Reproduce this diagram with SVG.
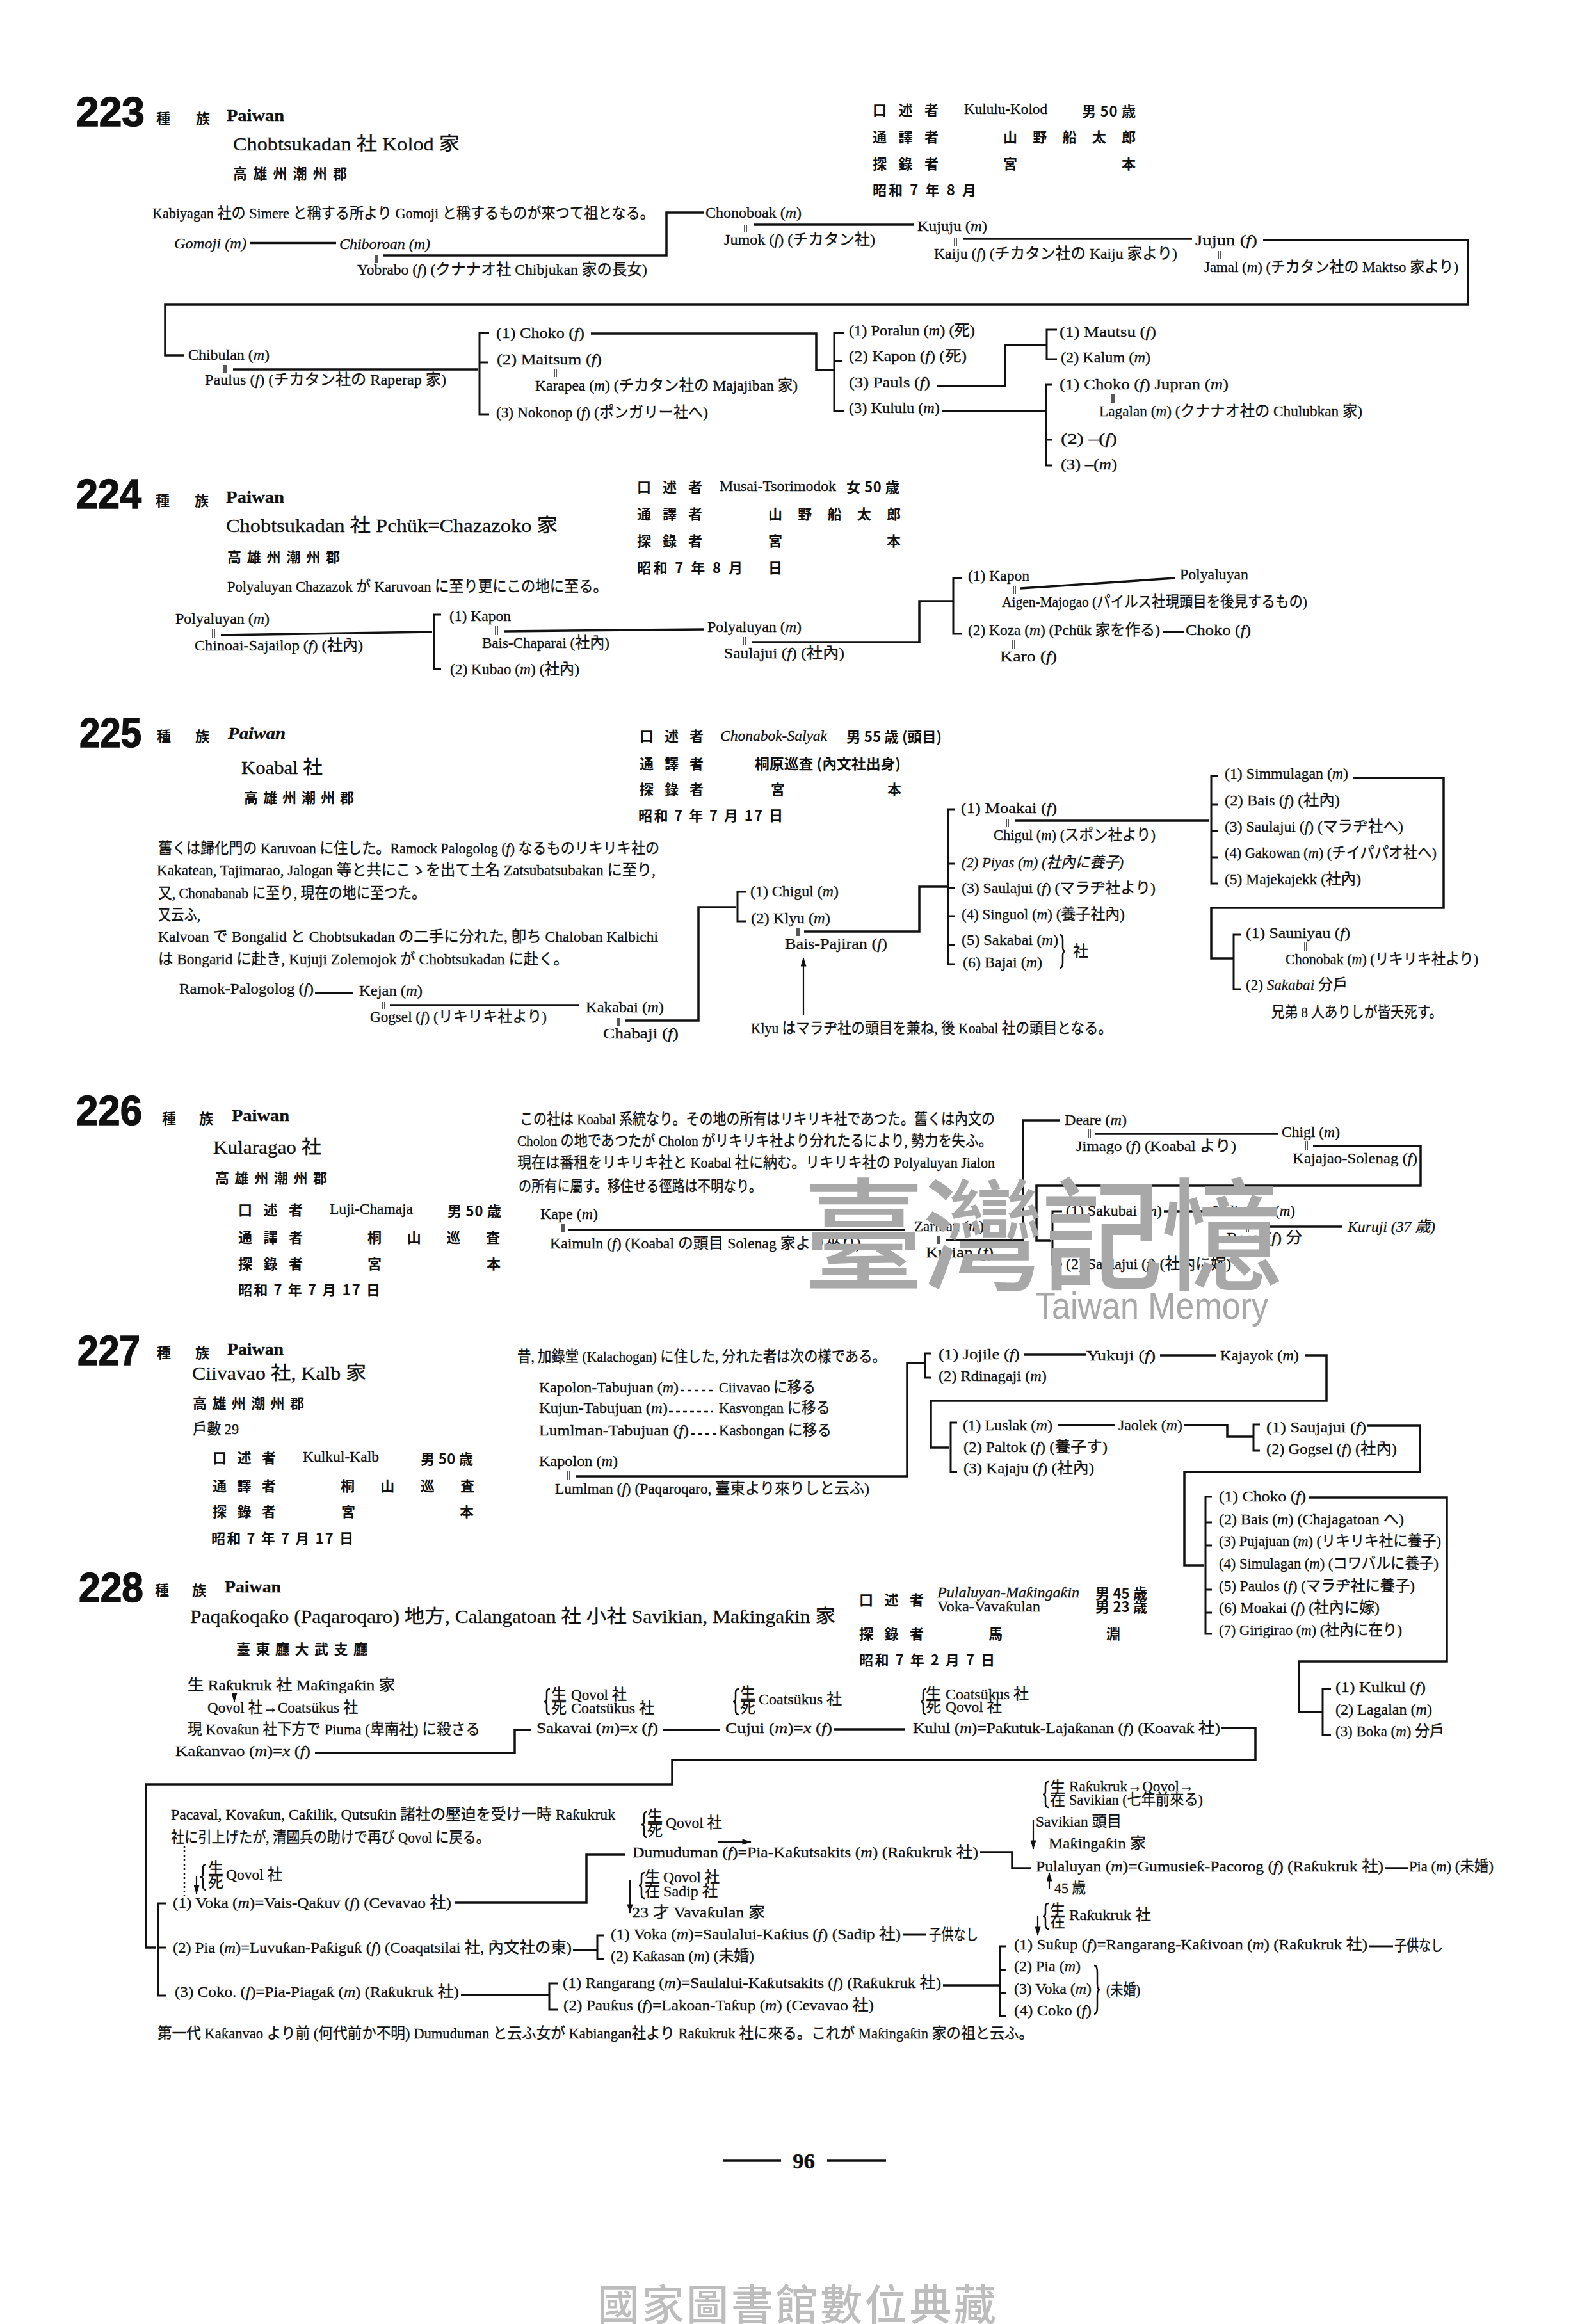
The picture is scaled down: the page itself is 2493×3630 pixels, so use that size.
<svg xmlns="http://www.w3.org/2000/svg" width="2493" height="3630" viewBox="0 0 2493 3630">
<style>
text{font-family:"Liberation Serif","Noto Sans CJK JP",serif;font-size:24px;fill:#111;stroke:#111;stroke-width:.35}
.i{font-style:italic}
.b{font-weight:bold;font-size:26px}
.h{font-size:29px}
.k{font-family:"Noto Sans CJK JP",sans-serif;font-size:22px;font-weight:700;stroke:none}
.n{font-family:"Liberation Sans",sans-serif;font-size:64px;font-weight:bold;stroke-width:1.5}
.pg{font-size:34px;font-weight:bold}
.c path,.l{fill:none;stroke:#111;stroke-width:3.5}
.c .t{stroke-width:3}
.c .q{stroke-width:1.4}
.c .d{stroke-width:2.5;stroke-dasharray:6 5}
.c .o{stroke-width:2.5;stroke-dasharray:3 4}
.c .a{stroke-width:2.2}
#br{fill:none;stroke:#111;stroke-width:2.5;vector-effect:non-scaling-stroke}
.wm{font-family:"Noto Sans CJK TC",sans-serif;font-size:190px;font-weight:500;fill:#a8a8a8;stroke:none}
.we{font-family:"Liberation Sans",sans-serif;font-size:60px;fill:#a8a8a8;stroke:none}
.ft{font-family:"Noto Sans CJK TC",sans-serif;font-size:66px;font-weight:500;fill:#bdbdbd;stroke:none}
</style>
<defs>
<marker id="ah" markerUnits="userSpaceOnUse" viewBox="0 0 16 10" refX="15" refY="5" markerWidth="16" markerHeight="9" orient="auto"><path d="M0 0L16 5L0 10Z" fill="#111" stroke="none"/></marker>
<path id="br" d="M5 0Q0 0 0 6V15Q0 20 -4 20Q0 20 0 25V34Q0 40 5 40"/>
</defs>
<rect width="2493" height="3630" fill="#fff"/>

<g id="connectors" class="c">
<path d="M391 379.5H525M599 399H1041V332H1099M1178 351H1427M1505 373H1862M1973 375H2293V476H258V555H287M364 577H747M923 521H1275V578H1302M1464 603H1570V539H1635M1472 642H1632"/>
<path class="t" d="M764 520H749V647H764M749 566H762M1318 520H1303V642H1318M1303 564H1316M1651 515H1635V561H1651M1644 601H1634V727H1644M1634 687H1644"/>
<path d="M345 992L675 987M787 986L1099 983M1175 1003H1436V939H1489M1594 919L1835 903M1816 987H1849"/>
<path class="t" d="M689 960H678V1045H689M1502 903H1489V990H1502"/>
<path d="M492 1551H551M609 1570H904M976 1594H1091V1417H1150M1256 1455H1436V1385H1481M1585 1282H1889M2113 1215H2255V1418H1892V1497H1927"/>
<path class="t" d="M1165 1393H1152V1439H1165M1491 1264H1481V1506H1491M1481 1349H1491M1481 1387H1491M1481 1431H1491M1481 1476H1491M1903 1212H1892V1380H1903M1892 1257H1903M1892 1298H1903M1892 1339H1903M1939 1460H1927V1545H1939"/>
<path class="a" d="M1255 1585V1496" marker-end="url(#ah)"/>
<path d="M888 1921H1413M1477 1937H1598V1750H1655M1711 1771H1996M2051 1790H2219V1852H1619V1938H1642M1818 1892H1893M1968 1916H2097"/>
<path class="t" d="M1659 1892H1644V1975H1659"/>
<path class="d" d="M1063 2172H1118M1045 2205H1114M1080 2240H1122"/>
<path d="M900 2306H1417V2129H1445M1599 2116H1696M1812 2117H1900M2038 2117H2072V2188H1454V2261H1483M1652 2226H1742M1850 2226H1917V2244H1958M2135 2227H2218V2299H1850V2445H1881M2044 2339H2260V2595H2029V2674H2065"/>
<path class="t" d="M1455 2114H1445V2152H1455M1495 2222H1485V2299H1495M1968 2225H1958V2266H1968M1893 2338H1883V2552H1893M1883 2378H1893M1883 2414H1893M1883 2483H1893M1883 2519H1893M2079 2638H2066V2710H2079"/>
<path d="M492 2738H804V2702H829M1035 2702H1125M1303 2701H1414M1908 2699H1961V2749H1050V2787H228V3042H244M711 2972H916V2897H977M895 3046H933M720 3116H858M1531 2893H1581V2918H1610M1473 3101H1561M2164 2918H2199"/>
<path class="t" d="M260 2973H247V3117H260M247 3042H260M944 3023H933V3060H944M872 3098H858V3139H872M1572 3040H1562V3149H1572M1562 3077H1572M1562 3113H1572M1411 3022H1447M2138 3040H2176"/>
<path class="a" d="M366 2647V2658" marker-end="url(#ah)"/>
<path class="a" d="M307 2930V2958" marker-end="url(#ah)"/>
<path class="o" d="M288 2883V2962"/>
<path class="a" d="M1121 2877H1173" marker-end="url(#ah)"/>
<path class="a" d="M984 2937V2988" marker-end="url(#ah)"/>
<path class="a" d="M1614 2843V2888" marker-end="url(#ah)"/>
<path class="a" d="M1639 2950V2925" marker-end="url(#ah)"/>
<path class="a" d="M1621 2992V3023" marker-end="url(#ah)"/>
<path class="q" d="M586 398v13M589 398v13M1163 352v10M1166 352v10M1491 372v13M1494 372v13M1903 392v12M1906 392v12M350 570v13M353 570v13M866 576v13M869 576v13M1737 616v13M1740 616v13M332 983v14M335 983v14M774 978v14M777 978v14M1161 995v13M1164 995v13M1583 915v13M1586 915v13M1582 1000v13M1585 1000v13M598 1565v11M601 1565v11M964 1590v13M967 1590v13M1245 1449v13M1248 1449v13M1572 1280v12M1575 1280v12M2038 1472v13M2041 1472v13M878 1912v13M881 1912v13M1465 1930v13M1468 1930v13M1700 1764v14M1703 1764v14M2039 1782v14M2042 1782v14M1947 1911v14M1950 1911v14M887 2297v14M890 2297v14"/>
<use href="#br" x="854" y="2638"/><use href="#br" x="1149" y="2638"/><use href="#br" x="1442" y="2638"/><use href="#br" x="317" y="2912"/><use href="#br" x="1006" y="2830"/><use href="#br" x="1002" y="2925"/><use href="#br" x="1633" y="2783"/><use href="#br" x="1633" y="2973"/>
<use href="#br" transform="translate(1660,1460) scale(-1,1.3)"/>
<use href="#br" transform="translate(1714,3070) scale(-1,1.9)"/>
</g>

<g id="s223">
<text class="n" x="119" y="197" textLength="107" lengthAdjust="spacingAndGlyphs">223</text>
<text class="k" x="244" y="193" textLength="84">種族</text><text class="b" x="354" y="189" textLength="90" lengthAdjust="spacingAndGlyphs">Paiwan</text>
<text class="h" x="364" y="235" textLength="354" lengthAdjust="spacingAndGlyphs">Chobtsukadan 社 Kolod 家</text>
<text class="k" x="364" y="279" textLength="178">高雄州潮州郡</text>
<text x="238" y="341" textLength="784" lengthAdjust="spacingAndGlyphs">Kabiyagan 社の Simere と稱する所より Gomoji と稱するものが來つて祖となる。</text>
<g id="h223"><text class="k" x="1363" y="180" textLength="103">口述者</text><text x="1506" y="178" textLength="130" lengthAdjust="spacingAndGlyphs">Kululu-Kolod</text><text class="k" x="1690" y="182" textLength="84">男 50 歳</text>
<text class="k" x="1363" y="222" textLength="103">通譯者</text><text class="k" x="1567" y="222" textLength="207">山野船太郎</text>
<text class="k" x="1363" y="264" textLength="103">探錄者</text><text class="k" x="1567" y="264">宮</text><text class="k" x="1752" y="264">本</text>
<text class="k" x="1363" y="305" textLength="162">昭和 7 年 8 月</text></g>
<g id="n223-01"><text class="i" x="272" y="388" textLength="113" lengthAdjust="spacingAndGlyphs">Gomoji (m)</text></g>
<g id="n223-02"><text class="i" x="530" y="389" textLength="142" lengthAdjust="spacingAndGlyphs">Chiboroan (m)</text></g>
<g id="n223-03"><text x="558" y="429" textLength="453" lengthAdjust="spacingAndGlyphs">Yobrabo (<tspan class="i">f</tspan>) (クナナオ社 Chibjukan 家の長女)</text></g>
<g id="n223-04"><text x="1102" y="340" textLength="150" lengthAdjust="spacingAndGlyphs">Chonoboak (<tspan class="i">m</tspan>)</text></g>
<g id="n223-05"><text x="1131" y="382" textLength="236" lengthAdjust="spacingAndGlyphs">Jumok (<tspan class="i">f</tspan>) (チカタン社)</text></g>
<g id="n223-06"><text x="1433" y="361" textLength="109" lengthAdjust="spacingAndGlyphs">Kujuju (<tspan class="i">m</tspan>)</text></g>
<g id="n223-07"><text x="1459" y="404" textLength="380" lengthAdjust="spacingAndGlyphs">Kaiju (<tspan class="i">f</tspan>) (チカタン社の Kaiju 家より)</text></g>
<g id="n223-08"><text x="1867" y="383" textLength="97" lengthAdjust="spacingAndGlyphs">Jujun (<tspan class="i">f</tspan>)</text></g>
<g id="n223-09"><text x="1881" y="425" textLength="397" lengthAdjust="spacingAndGlyphs">Jamal (<tspan class="i">m</tspan>) (チカタン社の Maktso 家より)</text></g>
<g id="n223-10"><text x="294" y="562" textLength="127" lengthAdjust="spacingAndGlyphs">Chibulan (<tspan class="i">m</tspan>)</text></g>
<g id="n223-11"><text x="320" y="601" textLength="377" lengthAdjust="spacingAndGlyphs">Paulus (<tspan class="i">f</tspan>) (チカタン社の Raperap 家)</text></g>
<g id="n223-12"><text x="775" y="528" textLength="138" lengthAdjust="spacingAndGlyphs">(1) Choko (<tspan class="i">f</tspan>)</text></g>
<g id="n223-13"><text x="776" y="569" textLength="164" lengthAdjust="spacingAndGlyphs">(2) Maitsum (<tspan class="i">f</tspan>)</text></g>
<g id="n223-14"><text x="836" y="610" textLength="410" lengthAdjust="spacingAndGlyphs">Karapea (<tspan class="i">m</tspan>) (チカタン社の Majajiban 家)</text></g>
<g id="n223-15"><text x="775" y="652" textLength="331" lengthAdjust="spacingAndGlyphs">(3) Nokonop (<tspan class="i">f</tspan>) (ポンガリー社へ)</text></g>
<g id="n223-16"><text x="1326" y="524" textLength="197" lengthAdjust="spacingAndGlyphs">(1) Poralun (<tspan class="i">m</tspan>) (死)</text></g>
<g id="n223-17"><text x="1326" y="564" textLength="184" lengthAdjust="spacingAndGlyphs">(2) Kapon (<tspan class="i">f</tspan>) (死)</text></g>
<g id="n223-18"><text x="1326" y="605" textLength="127" lengthAdjust="spacingAndGlyphs">(3) Pauls (<tspan class="i">f</tspan>)</text></g>
<g id="n223-19"><text x="1326" y="645" textLength="142" lengthAdjust="spacingAndGlyphs">(3) Kululu (<tspan class="i">m</tspan>)</text></g>
<g id="n223-20"><text x="1655" y="526" textLength="151" lengthAdjust="spacingAndGlyphs">(1) Mautsu (<tspan class="i">f</tspan>)</text></g>
<g id="n223-21"><text x="1657" y="566" textLength="140" lengthAdjust="spacingAndGlyphs">(2) Kalum (<tspan class="i">m</tspan>)</text></g>
<g id="n223-22"><text x="1655" y="608" textLength="264" lengthAdjust="spacingAndGlyphs">(1) Choko (<tspan class="i">f</tspan>)  Jupran (<tspan class="i">m</tspan>)</text></g>
<g id="n223-23"><text x="1717" y="650" textLength="411" lengthAdjust="spacingAndGlyphs">Lagalan (<tspan class="i">m</tspan>) (クナナオ社の Chulubkan 家)</text></g>
<g id="n223-24"><text x="1657" y="693" textLength="88" lengthAdjust="spacingAndGlyphs">(2) –(<tspan class="i">f</tspan>)</text></g>
<g id="n223-25"><text x="1657" y="733" textLength="88" lengthAdjust="spacingAndGlyphs">(3) –(<tspan class="i">m</tspan>)</text></g>
</g>

<g id="s224">
<text class="n" x="119" y="794" textLength="102" lengthAdjust="spacingAndGlyphs">224</text>
<text class="k" x="243" y="790" textLength="83">種族</text><text class="b" x="353" y="785" textLength="91" lengthAdjust="spacingAndGlyphs">Paiwan</text>
<text class="h" x="353" y="831" textLength="518" lengthAdjust="spacingAndGlyphs">Chobtsukadan 社 Pchük=Chazazoko 家</text>
<text class="k" x="355" y="878" textLength="176">高雄州潮州郡</text>
<text x="355" y="924" textLength="594" lengthAdjust="spacingAndGlyphs">Polyaluyan Chazazok が Karuvoan に至り更にこの地に至る。</text>
<g id="h224"><text class="k" x="995" y="769" textLength="102">口述者</text><text x="1124" y="767" textLength="182" lengthAdjust="spacingAndGlyphs">Musai-Tsorimodok</text><text class="k" x="1322" y="769" textLength="83">女 50 歳</text>
<text class="k" x="995" y="811" textLength="102">通譯者</text><text class="k" x="1200" y="811" textLength="207">山野船太郎</text>
<text class="k" x="995" y="853" textLength="102">探錄者</text><text class="k" x="1200" y="853">宮</text><text class="k" x="1385" y="853">本</text>
<text class="k" x="995" y="895" textLength="165">昭和 7 年 8 月</text><text class="k" x="1200" y="895">日</text></g>
<g id="n224-01"><text x="274" y="974" textLength="147" lengthAdjust="spacingAndGlyphs">Polyaluyan (<tspan class="i">m</tspan>)</text></g>
<g id="n224-02"><text x="304" y="1016" textLength="263" lengthAdjust="spacingAndGlyphs">Chinoai-Sajailop (<tspan class="i">f</tspan>) (社內)</text></g>
<g id="n224-03"><text x="702" y="970" textLength="96" lengthAdjust="spacingAndGlyphs">(1) Kapon</text></g>
<g id="n224-04"><text x="753" y="1012" textLength="199" lengthAdjust="spacingAndGlyphs">Bais-Chaparai (社內)</text></g>
<g id="n224-05"><text x="703" y="1053" textLength="202" lengthAdjust="spacingAndGlyphs">(2) Kubao (<tspan class="i">m</tspan>) (社內)</text></g>
<g id="n224-06"><text x="1105" y="987" textLength="147" lengthAdjust="spacingAndGlyphs">Polyaluyan (<tspan class="i">m</tspan>)</text></g>
<g id="n224-07"><text x="1131" y="1028" textLength="188" lengthAdjust="spacingAndGlyphs">Saulajui (<tspan class="i">f</tspan>) (社內)</text></g>
<g id="n224-08"><text x="1512" y="907" textLength="96" lengthAdjust="spacingAndGlyphs">(1) Kapon</text></g>
<g id="n224-09"><text x="1843" y="905" textLength="107" lengthAdjust="spacingAndGlyphs">Polyaluyan</text></g>
<g id="n224-10"><text x="1565" y="948" textLength="477" lengthAdjust="spacingAndGlyphs">Aigen-Majogao (パイルス社現頭目を後見するもの)</text></g>
<g id="n224-11"><text x="1512" y="992" textLength="300" lengthAdjust="spacingAndGlyphs">(2) Koza (<tspan class="i">m</tspan>) (Pchük 家を作る)</text></g>
<g id="n224-12"><text x="1852" y="992" textLength="102" lengthAdjust="spacingAndGlyphs">Choko (<tspan class="i">f</tspan>)</text></g>
<g id="n224-13"><text x="1562" y="1033" textLength="89" lengthAdjust="spacingAndGlyphs">Karo (<tspan class="i">f</tspan>)</text></g>
</g>

<g id="s225">
<text class="n" x="124" y="1167" textLength="97" lengthAdjust="spacingAndGlyphs">225</text>
<text class="k" x="245" y="1158" textLength="82">種族</text><text class="b i" x="356" y="1154" textLength="90" lengthAdjust="spacingAndGlyphs">Paiwan</text>
<text class="h" x="377" y="1209" textLength="127" lengthAdjust="spacingAndGlyphs">Koabal 社</text>
<text class="k" x="381" y="1254" textLength="172">高雄州潮州郡</text>
<text x="247" y="1333" textLength="783" lengthAdjust="spacingAndGlyphs">舊くは歸化門の Karuvoan に住した。Ramock Palogolog (<tspan class="i">f</tspan>) なるものリキリキ社の</text>
<text x="245" y="1367" textLength="779" lengthAdjust="spacingAndGlyphs">Kakatean, Tajimarao, Jalogan 等と共にこゝを出て土名 Zatsubatsubakan に至り,</text>
<text x="247" y="1403" textLength="418" lengthAdjust="spacingAndGlyphs">又, Chonabanab に至り, 現在の地に至つた。</text>
<text x="247" y="1437" textLength="66" lengthAdjust="spacingAndGlyphs">又云ふ,</text>
<text x="247" y="1471" textLength="781" lengthAdjust="spacingAndGlyphs">Kalvoan で Bongalid と Chobtsukadan の二手に分れた, 卽ち Chaloban Kalbichi</text>
<text x="247" y="1506" textLength="641" lengthAdjust="spacingAndGlyphs">は Bongarid に赴き, Kujuji Zolemojok が Chobtsukadan に赴く。</text>
<g id="h225"><text class="k" x="999" y="1158" textLength="100">口述者</text><text class="i" x="1125" y="1157" textLength="167" lengthAdjust="spacingAndGlyphs">Chonabok-Salyak</text><text class="k" x="1322" y="1159" textLength="149" lengthAdjust="spacingAndGlyphs">男 55 歳 (頭目)</text>
<text class="k" x="999" y="1201" textLength="100">通譯者</text><text class="k" x="1179" y="1201" textLength="228" lengthAdjust="spacingAndGlyphs">桐原巡査 (內文社出身)</text>
<text class="k" x="999" y="1241" textLength="100">探錄者</text><text class="k" x="1204" y="1241">宮</text><text class="k" x="1386" y="1241">本</text>
<text class="k" x="997" y="1282" textLength="226">昭和 7 年 7 月 17 日</text></g>
<g id="n225-01"><text x="280" y="1552" textLength="210" lengthAdjust="spacingAndGlyphs">Ramok-Palogolog (<tspan class="i">f</tspan>)</text></g>
<g id="n225-02"><text x="561" y="1555" textLength="99" lengthAdjust="spacingAndGlyphs">Kejan (<tspan class="i">m</tspan>)</text></g>
<g id="n225-03"><text x="578" y="1596" textLength="276" lengthAdjust="spacingAndGlyphs">Gogsel (<tspan class="i">f</tspan>) (リキリキ社より)</text></g>
<g id="n225-04"><text x="915" y="1581" textLength="122" lengthAdjust="spacingAndGlyphs">Kakabai (<tspan class="i">m</tspan>)</text></g>
<g id="n225-05"><text x="942" y="1622" textLength="118" lengthAdjust="spacingAndGlyphs">Chabaji (<tspan class="i">f</tspan>)</text></g>
<g id="n225-06"><text x="1172" y="1400" textLength="138" lengthAdjust="spacingAndGlyphs">(1) Chigul (<tspan class="i">m</tspan>)</text></g>
<g id="n225-07"><text x="1173" y="1442" textLength="124" lengthAdjust="spacingAndGlyphs">(2) Klyu (<tspan class="i">m</tspan>)</text></g>
<g id="n225-08"><text x="1226" y="1482" textLength="160" lengthAdjust="spacingAndGlyphs">Bais-Pajiran (<tspan class="i">f</tspan>)</text></g>
<g id="n225-09"><text x="1501" y="1270" textLength="150" lengthAdjust="spacingAndGlyphs">(1) Moakai (<tspan class="i">f</tspan>)</text></g>
<g id="n225-10"><text x="1552" y="1312" textLength="253" lengthAdjust="spacingAndGlyphs">Chigul (<tspan class="i">m</tspan>) (スポン社より)</text></g>
<g id="n225-11"><text class="i" x="1502" y="1355" textLength="253" lengthAdjust="spacingAndGlyphs">(2) Piyas (m) (社內に養子)</text></g>
<g id="n225-12"><text x="1502" y="1395" textLength="303" lengthAdjust="spacingAndGlyphs">(3) Saulajui (<tspan class="i">f</tspan>) (マラヂ社より)</text></g>
<g id="n225-13"><text x="1502" y="1436" textLength="255" lengthAdjust="spacingAndGlyphs">(4) Singuol (<tspan class="i">m</tspan>) (養子社內)</text></g>
<g id="n225-14"><text x="1502" y="1476" textLength="151" lengthAdjust="spacingAndGlyphs">(5) Sakabai (<tspan class="i">m</tspan>)</text></g>
<g id="n225-15"><text x="1504" y="1511" textLength="124" lengthAdjust="spacingAndGlyphs">(6) Bajai (<tspan class="i">m</tspan>)</text></g>
<text x="1676" y="1494">社</text>
<g id="n225-16"><text x="1913" y="1216" textLength="193" lengthAdjust="spacingAndGlyphs">(1) Simmulagan (<tspan class="i">m</tspan>)</text></g>
<g id="n225-17"><text x="1913" y="1258" textLength="180" lengthAdjust="spacingAndGlyphs">(2) Bais (<tspan class="i">f</tspan>) (社內)</text></g>
<g id="n225-18"><text x="1913" y="1299" textLength="279" lengthAdjust="spacingAndGlyphs">(3) Saulajui (<tspan class="i">f</tspan>) (マラヂ社へ)</text></g>
<g id="n225-19"><text x="1913" y="1340" textLength="331" lengthAdjust="spacingAndGlyphs">(4) Gakowan (<tspan class="i">m</tspan>) (チイパパオ社へ)</text></g>
<g id="n225-20"><text x="1913" y="1381" textLength="213" lengthAdjust="spacingAndGlyphs">(5) Majekajekk (社內)</text></g>
<g id="n225-21"><text x="1946" y="1465" textLength="163" lengthAdjust="spacingAndGlyphs">(1) Sauniyau (<tspan class="i">f</tspan>)</text></g>
<g id="n225-22"><text x="2008" y="1506" textLength="301" lengthAdjust="spacingAndGlyphs">Chonobak (<tspan class="i">m</tspan>) (リキリキ社より)</text></g>
<g id="n225-23"><text x="1946" y="1546" textLength="159" lengthAdjust="spacingAndGlyphs">(2) <tspan class="i">Sakabai</tspan> 分戶</text></g>
<text x="1986" y="1589" textLength="267" lengthAdjust="spacingAndGlyphs">兄弟 8 人ありしが皆夭死す。</text>
<text x="1173" y="1614" textLength="564" lengthAdjust="spacingAndGlyphs">Klyu はマラヂ社の頭目を兼ね, 後 Koabal 社の頭目となる。</text>
</g>

<g id="s226">
<text class="n" x="119" y="1757" textLength="103" lengthAdjust="spacingAndGlyphs">226</text>
<text class="k" x="253" y="1755" textLength="80">種族</text><text class="b" x="362" y="1751" textLength="90" lengthAdjust="spacingAndGlyphs">Paiwan</text>
<text class="h" x="333" y="1802" textLength="169" lengthAdjust="spacingAndGlyphs">Kularagao 社</text>
<text class="k" x="336" y="1848" textLength="175">高雄州潮州郡</text>
<g id="h226"><text class="k" x="372" y="1898" textLength="101">口述者</text><text x="515" y="1896" textLength="130" lengthAdjust="spacingAndGlyphs">Luji-Chamaja</text><text class="k" x="699" y="1900" textLength="84">男 50 歳</text>
<text class="k" x="372" y="1941" textLength="101">通譯者</text><text class="k" x="574" y="1941" textLength="207">桐山巡査</text>
<text class="k" x="372" y="1982" textLength="101">探錄者</text><text class="k" x="574" y="1982">宮</text><text class="k" x="760" y="1982">本</text>
<text class="k" x="372" y="2023" textLength="222">昭和 7 年 7 月 17 日</text></g>
<text x="812" y="1756" textLength="742" lengthAdjust="spacingAndGlyphs">この社は Koabal 系統なり。その地の所有はリキリキ社であつた。舊くは內文の</text>
<text x="808" y="1790" textLength="742" lengthAdjust="spacingAndGlyphs">Cholon の地であつたが Cholon がリキリキ社より分れたるにより, 勢力を失ふ。</text>
<text x="808" y="1824" textLength="746" lengthAdjust="spacingAndGlyphs">現在は番租をリキリキ社と Koabal 社に納む。リキリキ社の Polyaluyan Jialon</text>
<text x="810" y="1861" textLength="380" lengthAdjust="spacingAndGlyphs">の所有に屬す。移住せる徑路は不明なり。</text>
<g id="n226-01"><text x="844" y="1904" textLength="90" lengthAdjust="spacingAndGlyphs">Kape (<tspan class="i">m</tspan>)</text></g>
<g id="n226-02"><text x="859" y="1950" textLength="486" lengthAdjust="spacingAndGlyphs">Kaimuln (<tspan class="i">f</tspan>) (Koabal の頭目 Solenag 家より來り)</text></g>
<g id="n226-03"><text x="1428" y="1923" textLength="109" lengthAdjust="spacingAndGlyphs">Zariban (<tspan class="i">m</tspan>)</text></g>
<g id="n226-04"><text x="1446" y="1964" textLength="106" lengthAdjust="spacingAndGlyphs">Kujian (<tspan class="i">f</tspan>)</text></g>
<g id="n226-05"><text x="1663" y="1757" textLength="97" lengthAdjust="spacingAndGlyphs">Deare (<tspan class="i">m</tspan>)</text></g>
<g id="n226-06"><text x="1681" y="1798" textLength="250" lengthAdjust="spacingAndGlyphs">Jimago (<tspan class="i">f</tspan>) (Koabal より)</text></g>
<g id="n226-07"><text x="2002" y="1776" textLength="91" lengthAdjust="spacingAndGlyphs">Chigl (<tspan class="i">m</tspan>)</text></g>
<g id="n226-08"><text x="2019" y="1817" textLength="195" lengthAdjust="spacingAndGlyphs">Kajajao-Solenag (<tspan class="i">f</tspan>)</text></g>
<g id="n226-09"><text x="1665" y="1899" textLength="150" lengthAdjust="spacingAndGlyphs">(1) Sakubai (<tspan class="i">m</tspan>)</text></g>
<g id="n226-10"><text x="1895" y="1899" textLength="128" lengthAdjust="spacingAndGlyphs">Kalimuan (<tspan class="i">m</tspan>)</text></g>
<g id="n226-11"><text class="i" x="2105" y="1924" textLength="137" lengthAdjust="spacingAndGlyphs">Kuruji (37 歳)</text></g>
<g id="n226-12"><text x="1916" y="1941" textLength="118" lengthAdjust="spacingAndGlyphs">Roou (<tspan class="i">f</tspan>) 分</text></g>
<g id="n226-13"><text x="1665" y="1982" textLength="258" lengthAdjust="spacingAndGlyphs">(2) Saulajui (<tspan class="i">f</tspan>) (社內に嫁)</text></g>
</g>

<g id="s227">
<text class="n" x="121" y="2132" textLength="98" lengthAdjust="spacingAndGlyphs">227</text>
<text class="k" x="245" y="2121" textLength="82">種族</text><text class="b" x="355" y="2116" textLength="88" lengthAdjust="spacingAndGlyphs">Paiwan</text>
<text class="h" x="300" y="2155" textLength="272" lengthAdjust="spacingAndGlyphs">Ciivavao 社, Kalb 家</text>
<text class="k" x="301" y="2200" textLength="174">高雄州潮州郡</text>
<text x="301" y="2240" textLength="72" lengthAdjust="spacingAndGlyphs">戶數 29</text>
<g id="h227"><text class="k" x="332" y="2285" textLength="99">口述者</text><text x="473" y="2283" textLength="119" lengthAdjust="spacingAndGlyphs">Kulkul-Kalb</text><text class="k" x="657" y="2287" textLength="82">男 50 歳</text>
<text class="k" x="332" y="2329" textLength="99">通譯者</text><text class="k" x="532" y="2329" textLength="209">桐山巡査</text>
<text class="k" x="332" y="2369" textLength="99">探錄者</text><text class="k" x="533" y="2369">宮</text><text class="k" x="718" y="2369">本</text>
<text class="k" x="330" y="2411" textLength="222">昭和 7 年 7 月 17 日</text></g>
<text x="808" y="2127" textLength="576" lengthAdjust="spacingAndGlyphs">昔, 加錄堂 (Kalachogan) に住した, 分れた者は次の樣である。</text>
<text x="842" y="2175" textLength="218" lengthAdjust="spacingAndGlyphs">Kapolon-Tabujuan (<tspan class="i">m</tspan>)</text><text x="1123" y="2175" textLength="151" lengthAdjust="spacingAndGlyphs">Ciivavao に移る</text>
<text x="842" y="2207" textLength="201" lengthAdjust="spacingAndGlyphs">Kujun-Tabujuan (<tspan class="i">m</tspan>)</text><text x="1123" y="2207" textLength="174" lengthAdjust="spacingAndGlyphs">Kasvongan に移る</text>
<text x="842" y="2242" textLength="234" lengthAdjust="spacingAndGlyphs">Lumlman-Tabujuan (<tspan class="i">f</tspan>)</text><text x="1123" y="2242" textLength="176" lengthAdjust="spacingAndGlyphs">Kasbongan に移る</text>
<g id="n227-01"><text x="842" y="2290" textLength="123" lengthAdjust="spacingAndGlyphs">Kapolon (<tspan class="i">m</tspan>)</text></g>
<g id="n227-02"><text x="867" y="2333" textLength="491" lengthAdjust="spacingAndGlyphs">Lumlman (<tspan class="i">f</tspan>) (Paqaroqaro, 臺東より來りしと云ふ)</text></g>
<g id="n227-03"><text x="1466" y="2123" textLength="127" lengthAdjust="spacingAndGlyphs">(1) Jojile (<tspan class="i">f</tspan>)</text></g>
<g id="n227-04"><text x="1697" y="2125" textLength="108" lengthAdjust="spacingAndGlyphs">Yukuji (<tspan class="i">f</tspan>)</text></g>
<g id="n227-05"><text x="1906" y="2125" textLength="123" lengthAdjust="spacingAndGlyphs">Kajayok (<tspan class="i">m</tspan>)</text></g>
<g id="n227-06"><text x="1466" y="2157" textLength="169" lengthAdjust="spacingAndGlyphs">(2) Rdinagaji (<tspan class="i">m</tspan>)</text></g>
<g id="n227-07"><text x="1504" y="2234" textLength="140" lengthAdjust="spacingAndGlyphs">(1) Luslak (<tspan class="i">m</tspan>)</text></g>
<g id="n227-08"><text x="1747" y="2234" textLength="100" lengthAdjust="spacingAndGlyphs">Jaolek (<tspan class="i">m</tspan>)</text></g>
<g id="n227-09"><text x="1505" y="2268" textLength="225" lengthAdjust="spacingAndGlyphs">(2) Paltok (<tspan class="i">f</tspan>) (養子す)</text></g>
<g id="n227-10"><text x="1505" y="2301" textLength="204" lengthAdjust="spacingAndGlyphs">(3) Kajaju (<tspan class="i">f</tspan>) (社內)</text></g>
<g id="n227-11"><text x="1978" y="2237" textLength="156" lengthAdjust="spacingAndGlyphs">(1) Saujajui (<tspan class="i">f</tspan>)</text></g>
<g id="n227-12"><text x="1978" y="2271" textLength="204" lengthAdjust="spacingAndGlyphs">(2) Gogsel (<tspan class="i">f</tspan>) (社內)</text></g>
<g id="n227-13"><text x="1904" y="2345" textLength="136" lengthAdjust="spacingAndGlyphs">(1) Choko (<tspan class="i">f</tspan>)</text></g>
<g id="n227-14"><text x="1904" y="2381" textLength="289" lengthAdjust="spacingAndGlyphs">(2) Bais (<tspan class="i">m</tspan>) (Chajagatoan へ)</text></g>
<g id="n227-15"><text x="1904" y="2415" textLength="347" lengthAdjust="spacingAndGlyphs">(3) Pujajuan (<tspan class="i">m</tspan>) (リキリキ社に養子)</text></g>
<g id="n227-16"><text x="1904" y="2450" textLength="343" lengthAdjust="spacingAndGlyphs">(4) Simulagan (<tspan class="i">m</tspan>) (コワバルに養子)</text></g>
<g id="n227-17"><text x="1904" y="2485" textLength="306" lengthAdjust="spacingAndGlyphs">(5) Paulos (<tspan class="i">f</tspan>) (マラヂ社に養子)</text></g>
<g id="n227-18"><text x="1904" y="2519" textLength="251" lengthAdjust="spacingAndGlyphs">(6) Moakai (<tspan class="i">f</tspan>) (社內に嫁)</text></g>
<g id="n227-19"><text x="1904" y="2554" textLength="286" lengthAdjust="spacingAndGlyphs">(7) Girigirao (<tspan class="i">m</tspan>) (社內に在り)</text></g>
<g id="n227-20"><text x="2086" y="2643" textLength="141" lengthAdjust="spacingAndGlyphs">(1) Kulkul (<tspan class="i">f</tspan>)</text></g>
<g id="n227-21"><text x="2086" y="2678" textLength="151" lengthAdjust="spacingAndGlyphs">(2) Lagalan (<tspan class="i">m</tspan>)</text></g>
<g id="n227-22"><text x="2086" y="2712" textLength="170" lengthAdjust="spacingAndGlyphs">(3) Boka (<tspan class="i">m</tspan>) 分戶</text></g>
</g>

<g id="s228">
<text class="n" x="123" y="2502" textLength="101" lengthAdjust="spacingAndGlyphs">228</text>
<text class="k" x="242" y="2492" textLength="80">種族</text><text class="b" x="351" y="2487" textLength="88" lengthAdjust="spacingAndGlyphs">Paiwan</text>
<text class="h" x="297" y="2535" textLength="1008" lengthAdjust="spacingAndGlyphs">Paqaƙoqaƙo (Paqaroqaro) 地方, Calangatoan 社 小社 Savikian, Maƙingaƙin 家</text>
<text class="k" x="369" y="2584" textLength="205">臺東廳大武支廳</text>
<g id="h228"><text class="k" x="1342" y="2507" textLength="101">口述者</text><text class="i" x="1464" y="2495" textLength="222" lengthAdjust="spacingAndGlyphs">Pulaluyan-Maƙingaƙin</text><text class="k" x="1711" y="2497" textLength="81">男 45 歳</text><text x="1464" y="2517" textLength="161" lengthAdjust="spacingAndGlyphs">Voka-Vavaƙulan</text><text class="k" x="1711" y="2518" textLength="81">男 23 歳</text>
<text class="k" x="1342" y="2560" textLength="101">探錄者</text><text class="k" x="1544" y="2560">馬</text><text class="k" x="1728" y="2560">淵</text>
<text class="k" x="1342" y="2601" textLength="212">昭和 7 年 2 月 7 日</text></g>
<text x="293" y="2640" textLength="324" lengthAdjust="spacingAndGlyphs">生 Raƙukruk 社 Maƙingaƙin 家</text>
<text x="324" y="2675" textLength="235" lengthAdjust="spacingAndGlyphs">Qovol 社→Coatsükus 社</text>
<text x="293" y="2709" textLength="457" lengthAdjust="spacingAndGlyphs">現 Kovaƙun 社下方で Piuma (卑南社) に殺さる</text>
<g id="n228-01"><text x="274" y="2743" textLength="211" lengthAdjust="spacingAndGlyphs">Kaƙanvao (<tspan class="i">m</tspan>)=<tspan class="i">x</tspan> (<tspan class="i">f</tspan>)</text></g>
<text x="861" y="2655">生</text><text x="892" y="2655" textLength="87" lengthAdjust="spacingAndGlyphs">Qovol 社</text><text x="861" y="2676">死</text><text x="892" y="2676" textLength="130" lengthAdjust="spacingAndGlyphs">Coatsükus 社</text>
<g id="n228-02"><text x="838" y="2707" textLength="190" lengthAdjust="spacingAndGlyphs">Sakavai (<tspan class="i">m</tspan>)=<tspan class="i">x</tspan> (<tspan class="i">f</tspan>)</text></g>
<text x="1156" y="2653">生</text><text x="1156" y="2675">死</text><text x="1185" y="2662" textLength="130" lengthAdjust="spacingAndGlyphs">Coatsükus 社</text>
<g id="n228-03"><text x="1133" y="2707" textLength="167" lengthAdjust="spacingAndGlyphs">Cujui (<tspan class="i">m</tspan>)=<tspan class="i">x</tspan> (<tspan class="i">f</tspan>)</text></g>
<text x="1446" y="2654">生</text><text x="1446" y="2674">死</text><text x="1477" y="2654" textLength="130" lengthAdjust="spacingAndGlyphs">Coatsükus 社</text><text x="1477" y="2674" textLength="88" lengthAdjust="spacingAndGlyphs">Qovol 社</text>
<g id="n228-04"><text x="1426" y="2707" textLength="480" lengthAdjust="spacingAndGlyphs">Kulul (<tspan class="i">m</tspan>)=Paƙutuk-Lajaƙanan (<tspan class="i">f</tspan>) (Koavaƙ 社)</text></g>
<text x="267" y="2842" textLength="694" lengthAdjust="spacingAndGlyphs">Pacaval, Kovaƙun, Caƙilik, Qutsuƙin 諸社の壓迫を受け一時 Raƙukruk</text>
<text x="267" y="2878" textLength="498" lengthAdjust="spacingAndGlyphs">社に引上げたが, 清國兵の助けで再び Qovol に戻る。</text>
<text x="325" y="2927">生</text><text x="325" y="2948">死</text><text x="353" y="2936" textLength="88" lengthAdjust="spacingAndGlyphs">Qovol 社</text>
<g id="n228-05"><text x="270" y="2980" textLength="435" lengthAdjust="spacingAndGlyphs">(1) Voka (<tspan class="i">m</tspan>)=Vais-Qaƙuv (<tspan class="i">f</tspan>) (Cevavao 社)</text></g>
<g id="n228-06"><text x="270" y="3050" textLength="623" lengthAdjust="spacingAndGlyphs">(2) Pia (<tspan class="i">m</tspan>)=Luvuƙan-Paƙiguƙ (<tspan class="i">f</tspan>) (Coaqatsilai 社, 內文社の東)</text></g>
<g id="n228-07"><text x="273" y="3119" textLength="444" lengthAdjust="spacingAndGlyphs">(3) Coko. (<tspan class="i">f</tspan>)=Pia-Piagaƙ (<tspan class="i">m</tspan>) (Raƙukruk 社)</text></g>
<text x="1011" y="2845">生</text><text x="1011" y="2867">死</text><text x="1040" y="2855" textLength="88" lengthAdjust="spacingAndGlyphs">Qovol 社</text>
<g id="n228-08"><text x="988" y="2901" textLength="540" lengthAdjust="spacingAndGlyphs">Dumuduman (<tspan class="i">f</tspan>)=Pia-Kaƙutsakits (<tspan class="i">m</tspan>) (Raƙukruk 社)</text></g>
<text x="1007" y="2940">生</text><text x="1007" y="2962">在</text><text x="1036" y="2940" textLength="88" lengthAdjust="spacingAndGlyphs">Qovol 社</text><text x="1036" y="2962" textLength="85" lengthAdjust="spacingAndGlyphs">Sadip 社</text>
<text x="987" y="2995" textLength="208" lengthAdjust="spacingAndGlyphs">23 才  Vavaƙulan 家</text>
<g id="n228-09"><text x="954" y="3029" textLength="453" lengthAdjust="spacingAndGlyphs">(1) Voka (<tspan class="i">m</tspan>)=Saulalui-Kaƙius (<tspan class="i">f</tspan>) (Sadip 社)</text><text x="1451" y="3030" textLength="77" lengthAdjust="spacingAndGlyphs">子供なし</text></g>
<g id="n228-10"><text x="954" y="3063" textLength="224" lengthAdjust="spacingAndGlyphs">(2) Kaƙasan (<tspan class="i">m</tspan>) (未婚)</text></g>
<g id="n228-11"><text x="879" y="3105" textLength="591" lengthAdjust="spacingAndGlyphs">(1) Rangarang (<tspan class="i">m</tspan>)=Saulalui-Kaƙutsakits (<tspan class="i">f</tspan>) (Raƙukruk 社)</text></g>
<g id="n228-12"><text x="880" y="3140" textLength="485" lengthAdjust="spacingAndGlyphs">(2) Pauƙus (<tspan class="i">f</tspan>)=Lakoan-Taƙup (<tspan class="i">m</tspan>) (Cevavao 社)</text></g>
<text x="246" y="3184" textLength="1368" lengthAdjust="spacingAndGlyphs">第一代 Kaƙanvao より前 (何代前か不明) Dumuduman と云ふ女が Kabiangan社より Raƙukruk 社に來る。これが Maƙingaƙin 家の祖と云ふ。</text>
<text x="1640" y="2800">生</text><text x="1640" y="2820">在</text><text x="1670" y="2798" textLength="195" lengthAdjust="spacingAndGlyphs">Raƙukruk→Qovol→</text><text x="1670" y="2819" textLength="209" lengthAdjust="spacingAndGlyphs">Savikian (七年前來る)</text>
<text x="1618" y="2853" textLength="134" lengthAdjust="spacingAndGlyphs">Savikian 頭目</text>
<text x="1638" y="2887" textLength="152" lengthAdjust="spacingAndGlyphs">Maƙingaƙin 家</text>
<g id="n228-13"><text x="1618" y="2923" textLength="543" lengthAdjust="spacingAndGlyphs">Pulaluyan (<tspan class="i">m</tspan>)=Gumusieƙ-Pacorog (<tspan class="i">f</tspan>) (Raƙukruk 社)</text></g>
<g id="n228-14"><text x="2201" y="2923" textLength="132" lengthAdjust="spacingAndGlyphs">Pia (<tspan class="i">m</tspan>) (未婚)</text></g>
<text x="1647" y="2957" textLength="49" lengthAdjust="spacingAndGlyphs">45 歳</text>
<text x="1640" y="2992">生</text><text x="1640" y="3010">在</text><text x="1670" y="2999" textLength="128" lengthAdjust="spacingAndGlyphs">Raƙukruk 社</text>
<g id="n228-15"><text x="1584" y="3045" textLength="552" lengthAdjust="spacingAndGlyphs">(1) Suƙup (<tspan class="i">f</tspan>)=Rangarang-Kaƙivoan (<tspan class="i">m</tspan>) (Raƙukruk 社)</text><text x="2178" y="3047" textLength="76" lengthAdjust="spacingAndGlyphs">子供なし</text></g>
<g id="n228-16"><text x="1584" y="3079" textLength="104" lengthAdjust="spacingAndGlyphs">(2) Pia (<tspan class="i">m</tspan>)</text></g>
<g id="n228-17"><text x="1584" y="3114" textLength="121" lengthAdjust="spacingAndGlyphs">(3) Voka (<tspan class="i">m</tspan>)</text></g>
<g id="n228-18"><text x="1584" y="3148" textLength="121" lengthAdjust="spacingAndGlyphs">(4) Coko (<tspan class="i">f</tspan>)</text></g>
<text x="1728" y="3116" textLength="53" lengthAdjust="spacingAndGlyphs">(未婚)</text>
</g>

<g id="page">
<path class="l" d="M1130 3375H1220M1292 3375H1384"/>
<text class="pg" x="1238" y="3387" textLength="35" lengthAdjust="spacingAndGlyphs">96</text>
</g>
<g id="watermark">
<text class="wm" x="1254" y="2000" textLength="750">臺灣記憶</text>
<text class="we" x="1617" y="2060" textLength="364" lengthAdjust="spacingAndGlyphs">Taiwan Memory</text>
<text class="ft" x="933" y="3624" textLength="623">國家圖書館數位典藏</text>
</g>
</svg>
